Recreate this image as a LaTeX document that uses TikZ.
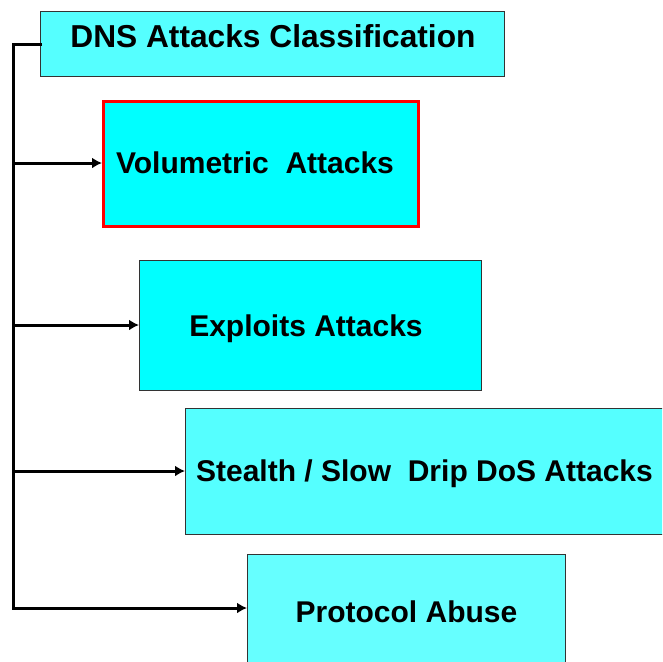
\documentclass[tikz,border=0pt]{standalone}
\usepackage{fontspec}
\setmainfont{Liberation Sans}
\usetikzlibrary{arrows.meta}
\definecolor{cyanA}{HTML}{00FFFF}
\definecolor{cyanB}{HTML}{55FFFF}
\definecolor{cyanC}{HTML}{66FFFF}
\definecolor{edge}{HTML}{333333}
\tikzset{
  box/.style={draw=edge, line width=1.3pt, rectangle, inner sep=0pt, anchor=north west},
  lbl/.style={font=\bfseries\fontsize{30}{36}\selectfont, inner sep=0pt},
  conn/.style={line width=3pt, black},
  arr/.style={conn, -{Latex[length=10pt,width=11pt]}}
}
\begin{document}
\begin{tikzpicture}[x=1pt,y=-1pt]
\useasboundingbox (0,0) rectangle (662,662);
\clip (0,0) rectangle (662,662);
% boxes
\node[box, fill=cyanB, minimum width=464pt, minimum height=65pt] (title) at (40,11) {};
\node[lbl, font=\bfseries\fontsize{31.7}{38}\selectfont] (titletxt) at (273,36) {DNS Attacks Classification};
\node[box, fill=cyanA, draw=red, line width=3pt, minimum width=315pt, minimum height=125pt] (vol) at (102,100) {};
\node[lbl] (voltxt) at (255,163) {Volumetric\ \ Attacks};
\node[box, fill=cyanA, minimum width=342pt, minimum height=130pt] (exp) at (139,260) {};
\node[lbl] (exptxt) at (306,329) {Exploits Attacks};
\node[box, fill=cyanB, minimum width=490pt, minimum height=126pt] (ste) at (185,408) {};
\node[lbl] (stetxt) at (424.5,474) {Stealth / Slow\ \ Drip DoS Attacks};
\node[box, fill=cyanC, minimum width=318pt, minimum height=130pt] (pro) at (247,554) {};
\node[lbl] (protxt) at (406.5,612) {Protocol Abuse};
% trunk
\coordinate (top) at (13,44);
\coordinate (b2) at (13,163);
\coordinate (b3) at (13,325);
\coordinate (b4) at (13,471);
\coordinate (bot) at (13,608);
\draw[conn, line cap=rect] (title.west |- top) -- (top) -- (bot);
\draw[arr] (bot) -- (bot -| pro.west);
\draw[arr] (b2) -- (b2 -| vol.west);
\draw[arr] (b3) -- (b3 -| exp.west);
\draw[arr] (b4) -- (b4 -| ste.west);
\end{tikzpicture}
\end{document}
